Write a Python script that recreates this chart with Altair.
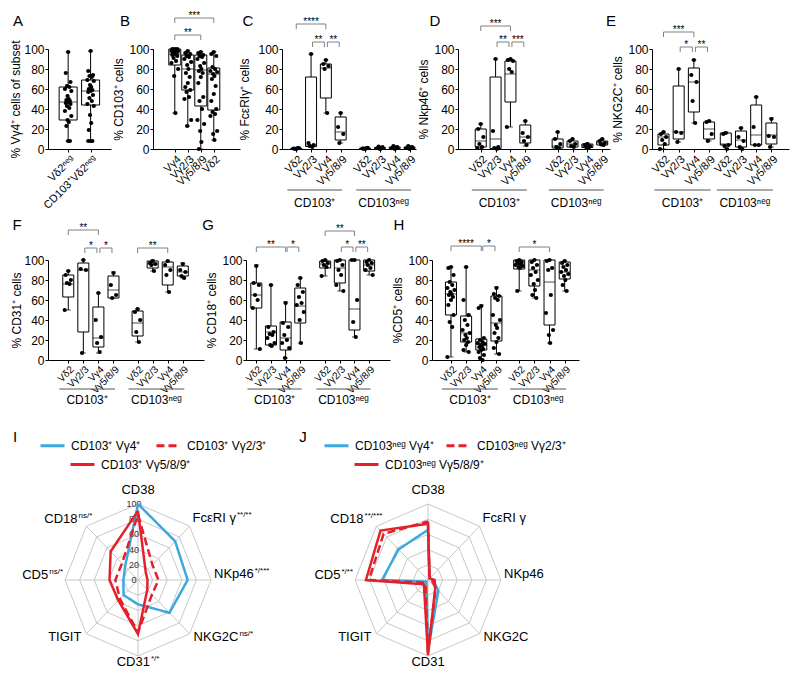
import json
import altair as alt
import pandas as pd

FONT = "Liberation Sans"
POS = "CD103⁺"
NEG = "CD103ⁿᵉᵍ"
SUBSETS = ["Vδ2", "Vγ2/3", "Vγ4", "Vγ5/8/9"]
BR_COLOR = "#808080"

# ---------------- Panel A
A_labels = ["Vδ2ⁿᵉᵍ", "CD103⁺Vδ2ⁿᵉᵍ"]
A_min = [8, 8]
A_q1 = [29, 44]
A_med = [47, 58]
A_q3 = [62, 69]
A_max = [97, 98]
A_points = [
    [97, 76, 67, 63, 62, 60, 58, 53, 50, 49, 48, 47, 46, 45, 43, 41, 38, 33, 29, 27, 23, 8, 8],
    [98, 78, 74, 73, 72, 69, 68, 64, 62, 60, 59, 58, 57, 54, 51, 48, 45, 43, 34, 26, 19, 8, 8, 8],
]

# ---------------- Panel B
B_labels = ["Vγ4", "Vγ2/3", "Vγ5/8/9", "Vδ2"]
B_min = [36, 23, 0, 9]
B_q1 = [84, 59, 43, 39]
B_med = [95, 80, 79, 75]
B_q3 = [100, 94, 94, 81]
B_max = [100, 98, 97, 97]
B_points = [
    [100, 100, 100, 99, 99, 98, 98, 97, 97, 96, 96, 95, 94, 93, 91, 88, 86, 80, 73, 36],
    [98, 96, 95, 93, 92, 90, 87, 84, 80, 76, 72, 66, 62, 59, 57, 52, 50, 29, 23],
    [97, 96, 94, 93, 92, 90, 86, 83, 80, 78, 76, 72, 66, 52, 48, 40, 29, 25, 18, 7, 0],
    [97, 95, 93, 82, 80, 78, 77, 75, 73, 70, 63, 55, 48, 40, 37, 35, 33, 18, 15, 9],
]
B_brackets = [(0, 2, 114, "**"), (0, 3, 131, "***")]

# ---------------- Panel C  (FcεRIγ)
C_min = [0, 2, 36, 6, 0, 0, 0, 0]
C_q1 = [0, 2.5, 51, 9, 0, 0.3, 0.5, 0.5]
C_med = [0.3, 4, 81, 17, 0.3, 0.8, 1, 1.2]
C_q3 = [0.8, 72, 85, 32, 0.8, 1.5, 2, 2]
C_max = [1, 95, 89, 36, 1.2, 2.5, 3, 3]
C_points = [[0, 0.5, 1, 0.2, 0.8], [95, 6, 4, 3, 2], [89, 85, 83, 80, 36], [36, 22, 15, 6],
            [0, 0.5, 1.2, 0.3, 0.8], [0, 1, 2, 2.5, 0.5], [0, 1, 2, 3, 1.5], [0, 1, 2, 3, 1.5]]
C_brackets = [(0, 2, 125, "****"), (1, 2, 107, "**"), (2, 3, 107, "**")]

# ---------------- Panel D  (NKp46)
D_min = [0, 0, 22, 3, 0, 2, 1, 3]
D_q1 = [2, 0.5, 47, 6, 1, 2, 1.5, 4]
D_med = [8, 10, 75, 12, 3, 5, 3, 6]
D_q3 = [20, 72, 88, 24, 10, 8, 5, 8]
D_max = [25, 90, 90, 28, 17, 10, 6, 10]
D_points = [[25, 20, 12, 5, 2, 1], [90, 18, 2, 1, 0], [90, 89, 88, 80, 77, 22], [28, 16, 12, 8, 4],
            [17, 10, 5, 2, 1], [10, 8, 5, 3, 2], [5, 4, 3, 2, 1], [10, 8, 6, 5, 4]]
D_brackets = [(0, 2, 123, "***"), (1, 2, 107, "**"), (2, 3, 107, "***")]

# ---------------- Panel E  (NKG2C)
E_min = [0, 7, 26, 8, 0, 0, 4, 2]
E_q1 = [4, 10, 37, 10, 4, 2, 4, 5]
E_med = [12, 17, 67, 20, 5, 9, 14, 14]
E_q3 = [15, 63, 81, 27, 16, 18, 44, 26]
E_max = [17, 80, 89, 28, 17, 21, 52, 31]
E_points = [[17, 15, 12, 9, 5, 0], [80, 17, 16, 7], [89, 74, 67, 48, 26], [28, 27, 15, 8],
            [16, 15, 4, 3, 0], [21, 12, 8, 2, 0], [52, 22, 4, 4], [30, 13, 12, 2]]
E_brackets = [(0, 2, 117, "***"), (1, 2, 102, "*"), (2, 3, 102, "**")]

# ---------------- Panel F  (CD31)
F_min = [50, 7, 7, 62, 18, 89, 68, 82]
F_q1 = [63, 28, 13, 62, 24, 92, 75, 84]
F_med = [76, 90, 22, 70, 37, 96, 93, 88]
F_q3 = [85, 97, 53, 84, 49, 99, 98, 94]
F_max = [89, 100, 67, 88, 51, 100, 99, 97]
F_points = [[89, 85, 80, 77, 76, 50], [100, 91, 90, 7], [67, 40, 23, 17, 8], [87, 75, 65, 62],
            [51, 48, 40, 28, 18], [99, 97, 96, 95, 89], [99, 95, 90, 85, 68], [96, 90, 88, 84, 82]]
F_brackets = [(0, 2, 130, "**"), (1, 2, 112, "*"), (2, 3, 112, "*"), (4, 6, 112, "**")]

# ---------------- Panel G  (CD18)
G_min = [11, 14, 2, 17, 84, 69, 23, 85]
G_q1 = [52, 15, 10, 37, 92, 77, 30, 89]
G_med = [65, 28, 22, 54, 96, 92, 51, 95]
G_q3 = [77, 34, 38, 72, 99, 100, 100, 100]
G_max = [95, 75, 58, 82, 100, 100, 100, 100]
G_points = [[94, 77, 75, 65, 60, 52, 11], [75, 33, 28, 26, 25, 22, 17, 15, 14],
            [57, 37, 33, 25, 20, 17, 12, 2], [82, 75, 68, 63, 57, 55, 48, 40, 17],
            [100, 99, 97, 95, 93, 84], [100, 99, 95, 90, 85, 75, 69], [100, 100, 60, 38, 23],
            [100, 98, 97, 95, 92, 90, 85]]
G_brackets = [(0, 2, 113, "**"), (2, 3, 113, "*"), (4, 6, 129, "**"), (5, 6, 113, "*"), (6, 7, 113, "**")]

# ---------------- Panel H  (CD5)
H_min = [3, 8, 0, 6, 69, 62, 17, 69]
H_q1 = [45, 18, 10, 19, 91, 74, 35, 81]
H_med = [66, 27, 16, 37, 96, 90, 78, 88]
H_q3 = [78, 44, 21, 64, 100, 100, 100, 98]
H_max = [93, 93, 55, 73, 100, 100, 100, 99]
H_points = [[93, 92, 85, 78, 75, 72, 70, 68, 66, 65, 63, 60, 55, 45, 38, 33, 3],
            [93, 60, 45, 40, 35, 30, 27, 25, 22, 20, 18, 15, 10, 8],
            [54, 52, 22, 20, 18, 17, 16, 15, 14, 13, 11, 10, 8, 5, 2, 0],
            [72, 66, 64, 62, 60, 45, 40, 35, 32, 27, 22, 18, 12, 6],
            [100, 99, 98, 97, 96, 95, 94, 93, 92, 69],
            [100, 98, 95, 92, 88, 85, 80, 76, 70, 65, 62],
            [100, 99, 92, 90, 65, 47, 30, 25, 17],
            [99, 97, 95, 93, 90, 88, 86, 84, 80, 75, 69]]
H_brackets = [(0, 2, 114, "****"), (2, 3, 114, "*"), (4, 6, 113, "*")]

# ---------------- Radar panels I / J
AXES = ["CD38", "FcεRI γ", "NKp46", "NKG2C", "CD31", "TIGIT", "CD5", "CD18"]
I_sups = ["", "**/**", "*/***", "ns/*", "*/*", "", "ns/*", "ns/*"]
J_sups = ["", "", "", "", "", "", "*/**", "**/***"]
I_series = ["CD103⁺ Vγ4⁺", "CD103⁺ Vγ2/3⁺", "CD103⁺ Vγ5/8/9⁺"]
I_vals = [
    [100, 72, 68, 61, 32, 28, 20, 25],
    [86, 28, 28, 27, 69, 35, 31, 31],
    [91, 15, 13, 18, 71, 38, 39, 53],
]
J_series = ["CD103ⁿᵉᵍ Vγ4⁺", "CD103ⁿᵉᵍ Vγ2/3⁺", "CD103ⁿᵉᵍ Vγ5/8/9⁺"]
J_vals = [
    [66, 3, 7, 20, 93, 3, 63, 57],
    [77, 3, 5, 15, 95, 5, 81, 86],
    [74, 3, 9, 14, 99, 8, 85, 92],
]
RINGS = [20, 40, 60, 80, 100]
BLUE = "#3AA9E0"
RED = "#E5202A"
GRID_C = "#c8c8c8"

JIT_PX = [0, -2.8, 2.8, -1.4, 1.4, -3.8, 3.8, -0.7, 0.7, -2.1, 2.1]
COL_GAP = 42


def make_pos(n, gap):
    if gap is None:
        return list(range(n))
    return [0, 1, 2, 3] + [round(3 + gap + k, 3) for k in range(4)]


def box_panel(letter, ytitle, labels, mins, q1s, meds, q3s, maxs, points, brackets, groups,
              step, gap, lp, rp, box_w, lab_size, letter_xy, ul_off, gt_off, title_pad=3):
    H = 100
    pos = make_pos(len(labels), gap)
    dom = [round(-lp / step, 4), round(pos[-1] + rp / step, 4)]
    width = round((dom[1] - dom[0]) * step)
    xs = alt.Scale(domain=dom, nice=False, zero=False)
    ys = alt.Scale(domain=[0, 100], nice=False, zero=False)
    lab_expr = "%s[indexof(%s, datum.value)]" % (json.dumps(labels, ensure_ascii=False), json.dumps(pos))
    xaxis = alt.Axis(values=pos, labelExpr=lab_expr, labelAngle=-45, labelFontSize=lab_size,
                     labelOverlap=False, labelBound=False, labelFlush=False, labelPadding=1,
                     tickSize=3, title=None, grid=False, domainColor="black", tickColor="black")
    yaxis = alt.Axis(values=[0, 20, 40, 60, 80, 100], tickSize=3, labelFontSize=12, labelPadding=1,
                     title=ytitle, titleFontSize=12, titleFontWeight="normal", titlePadding=title_pad,
                     grid=False, domainColor="black", tickColor="black")

    def X(f):
        return alt.X(f, type="quantitative", scale=xs, axis=xaxis)

    def Y(f):
        return alt.Y(f, type="quantitative", scale=ys, axis=yaxis)

    box = pd.DataFrame(dict(pos=pos, lo=mins, q1=q1s, med=meds, q3=q3s, hi=maxs))
    caps = pd.DataFrame(dict(pos=pos * 2, v=list(mins) + list(maxs)))
    rows = []
    for i, vals in enumerate(points):
        for k, v in enumerate(vals):
            rows.append(dict(xp=pos[i] + JIT_PX[k % len(JIT_PX)] / step, v=v))
    pts = pd.DataFrame(rows)

    layers = [
        alt.Chart(box).mark_rule(color="black", strokeWidth=1).encode(x=X("pos"), y=Y("lo"), y2="hi:Q"),
        alt.Chart(caps).mark_tick(orient="horizontal", size=5, thickness=1, color="black").encode(x=X("pos"), y=Y("v")),
        alt.Chart(box).mark_bar(orient="vertical", size=box_w, fill="white", stroke="black", strokeWidth=1)
        .encode(x=X("pos"), y=Y("q1"), y2="q3:Q"),
        alt.Chart(box).mark_tick(orient="horizontal", size=box_w, thickness=1, color="black").encode(x=X("pos"), y=Y("med")),
        alt.Chart(pts).mark_circle(size=18, color="black", opacity=1).encode(x=X("xp"), y=Y("v")),
    ]
    if brackets:
        br = []
        for i, j, lvl, s in brackets:
            inset = 0.1 if j - i == 1 else 0
            x1, x2 = pos[i] + inset, pos[j] - inset
            br.append(dict(x1=x1, x2=x2, xm=(x1 + x2) / 2, y=lvl, yt=lvl - 5, s=s))
        brd = pd.DataFrame(br)
        layers += [
            alt.Chart(brd).mark_rule(color=BR_COLOR, strokeWidth=1).encode(x=X("x1"), x2="x2:Q", y=Y("y")),
            alt.Chart(brd).mark_rule(color=BR_COLOR, strokeWidth=1).encode(x=X("x1"), y=Y("y"), y2="yt:Q"),
            alt.Chart(brd).mark_rule(color=BR_COLOR, strokeWidth=1).encode(x=X("x2"), y=Y("y"), y2="yt:Q"),
            alt.Chart(brd).mark_text(fontSize=10, baseline="alphabetic", align="center", dy=1, color="black")
            .encode(x=X("xm"), y=Y("y"), text="s:N"),
        ]
    if groups:
        gr = []
        for a, b, name in groups:
            g1, g2 = pos[a] - 0.6, pos[b] + 0.1
            gr.append(dict(g1=g1, g2=g2, gm=(g1 + g2) / 2, name=name))
        grd = pd.DataFrame(gr)
        layers += [
            alt.Chart(grd).mark_rule(color="#555555", strokeWidth=1).encode(x=X("g1"), x2="g2:Q", y=alt.value(H + ul_off)),
            alt.Chart(grd).mark_text(fontSize=12, baseline="middle", align="center", color="black")
            .encode(x=X("gm"), y=alt.value(H + gt_off), text="name:N"),
        ]
    layers.append(
        alt.Chart(pd.DataFrame({"t": [letter]})).mark_text(fontSize=15, align="center", baseline="alphabetic", color="black")
        .encode(x=alt.value(letter_xy[0]), y=alt.value(letter_xy[1]), text="t:N")
    )
    return alt.layer(*layers).properties(width=width, height=H)


GRP = [(0, 3, POS), (4, 7, NEG)]
S8 = SUBSETS + SUBSETS

A = box_panel("A", "% Vγ4⁺ cells of subset", A_labels, A_min, A_q1, A_med, A_q3, A_max, A_points, None, None,
              26.7, None, 18, 18.3, 18, 11, (-30, -23), 41, 54, title_pad=1)
B = box_panel("B", "% CD103⁺ cells", B_labels, B_min, B_q1, B_med, B_q3, B_max, B_points, B_brackets, None,
              14.7, None, 19, 24, 12, 11, (-28, -23), 41, 54)
C = box_panel("C", "% FcεRIγ⁺ cells", S8, C_min, C_q1, C_med, C_q3, C_max, C_points, C_brackets, GRP,
              16, 1.65, 10, 1.6, 11, 11, (-34, -23), 41, 54, title_pad=6)
D = box_panel("D", "% Nkp46⁺ cells", S8, D_min, D_q1, D_med, D_q3, D_max, D_points, D_brackets, GRP,
              15.9, 2.18, 19, 3, 11, 11, (-23, -23), 41, 54)
E = box_panel("E", "% NKG2C⁺ cells", S8, E_min, E_q1, E_med, E_q3, E_max, E_points, E_brackets, GRP,
              16.4, 1.1, 7, 13.6, 11, 11, (-41, -23), 41, 54)
F = box_panel("F", "% CD31⁺ cells", S8, F_min, F_q1, F_med, F_q3, F_max, F_points, F_brackets, GRP,
              16.1, 1.6, 16.3, 17.3, 11, 10, (-31, -30), 29, 40, title_pad=0)
G = box_panel("G", "% CD18⁺ cells", S8, G_min, G_q1, G_med, G_q3, G_max, G_points, G_brackets, GRP,
              15.7, 1.7, 5.7, 17, 11, 10, (-38, -30), 29, 40)
Hp = box_panel("H", "%CD5⁺ cells", S8, H_min, H_q1, H_med, H_q3, H_max, H_points, H_brackets, GRP,
               16.3, 1.5, 15, 10, 11, 10, (-33, -30), 29, 40)

# ---------------- radar
CW = {'C': 722, 'D': 722, 'F': 611, 'c': 500, 'ε': 441, 'R': 722, 'I': 278, ' ': 278, 'γ': 500,
      'N': 722, 'K': 667, 'p': 556, 'G': 778, 'T': 611, '/': 278, '*': 389, 'n': 556, 's': 500}


def tw(s, size):
    return sum(CW.get(ch, 556) for ch in s) * size / 1000.0


PLACE = [("center", 0, -10), ("left", 3, -4), ("left", 3, -2), ("left", 4, 7),
         ("center", 0, 10), ("right", -5, 7), ("right", -2, -1), ("right", 6, -3)]

R_PX = 73.0          # radius in px (horizontal)
R_PY = 76.0          # radius in px (vertical)
TOP_PAD = 33         # empty px above the octagon inside the view


def radar(letter, series, vals, sups, show_ticks, left_pad, leg1_xy, leg2_xy, col_pad, letter_x):
    w = round(left_pad + 2 * R_PX)
    h = round(2 * R_PY + TOP_PAD)
    ux = 100.0 / R_PX
    uy = 100.0 / R_PY
    xs = alt.Scale(domain=[round(-100 - left_pad * ux, 3), 100], nice=False, zero=False)
    ys = alt.Scale(domain=[-100, round(100 + TOP_PAD * uy, 3)], nice=False, zero=False)

    def X(f):
        return alt.X(f, type="quantitative", scale=xs, axis=None)

    def Y(f):
        return alt.Y(f, type="quantitative", scale=ys, axis=None)

    ang = "datum.k*PI/4"
    grid_df = pd.DataFrame([{"lvl": l, "k": k} for l in RINGS for k in range(9)])
    grid = (alt.Chart(grid_df)
            .transform_calculate(gx=f"datum.lvl*sin({ang})", gy=f"datum.lvl*cos({ang})")
            .mark_line(color=GRID_C, strokeWidth=1)
            .encode(x=X("gx"), y=Y("gy"), detail="lvl:N", order="k:Q"))
    spokes = (alt.Chart(pd.DataFrame({"k": list(range(8))}))
              .transform_calculate(gx=f"100*sin({ang})", gy=f"100*cos({ang})", z="0")
              .mark_rule(color=GRID_C, strokeWidth=1)
              .encode(x=X("z"), y=Y("z"), x2="gx:Q", y2="gy:Q"))
    layers = [grid, spokes]
    if show_ticks:
        tdf = pd.DataFrame({"lvl": [0] + RINGS})
        layers.append(alt.Chart(tdf).transform_calculate(z="0")
                      .mark_text(fontSize=9, dx=-4, baseline="middle", align="center", color="#333333")
                      .encode(x=X("z"), y=Y("lvl"), text=alt.Text("lvl:Q")))

    def series_df(idx):
        rows = []
        for i in idx:
            for k in range(9):
                rows.append({"series": series[i], "k": k, "v": vals[i][k % 8]})
        return pd.DataFrame(rows)

    leg_common = dict(title=None, orient="none", direction="horizontal", symbolType="stroke",
                      symbolStrokeWidth=3, symbolSize=576, labelFontSize=12, labelFont=FONT,
                      labelOffset=5, labelColor="black")
    leg1 = alt.Legend(legendX=leg1_xy[0], legendY=leg1_xy[1], columnPadding=col_pad, **leg_common)
    leg2 = alt.Legend(legendX=leg2_xy[0], legendY=leg2_xy[1], **leg_common)
    # first row of the legend: Vγ4 (blue, solid) and Vγ2/3 (red, dashed)
    layers.append(alt.Chart(series_df([0, 1]))
                  .transform_calculate(sx=f"datum.v*sin({ang})", sy=f"datum.v*cos({ang})")
                  .mark_line(strokeWidth=2.5)
                  .encode(x=X("sx"), y=Y("sy"),
                          color=alt.Color("series:N", scale=alt.Scale(domain=series[:2], range=[BLUE, RED]), legend=leg1),
                          strokeDash=alt.StrokeDash("series:N", scale=alt.Scale(domain=series[:2], range=[[1, 0], [8, 4]]), legend=leg1),
                          order="k:Q"))
    # second row: Vγ5/8/9 (red, solid)
    layers.append(alt.Chart(series_df([2]))
                  .transform_calculate(sx=f"datum.v*sin({ang})", sy=f"datum.v*cos({ang})")
                  .mark_line(strokeWidth=2.5)
                  .encode(x=X("sx"), y=Y("sy"),
                          stroke=alt.Stroke("series:N", scale=alt.Scale(domain=series[2:], range=[RED]), legend=leg2),
                          order="k:Q"))
    for k in range(8):
        main, sup = AXES[k], sups[k]
        align, dx, dy = PLACE[k]
        wm, ws = tw(main, 13), (tw(sup, 8) + 1 if sup else 0)
        if align == "left":
            m_al, m_dx, s_al, s_dx = "left", dx, "left", dx + wm + 1
        elif align == "right":
            m_al, m_dx, s_al, s_dx = "right", dx - ws, "right", dx
        else:
            tot = wm + ws
            m_al, m_dx, s_al, s_dx = "left", dx - tot / 2, "left", dx - tot / 2 + wm + 1
        base = (alt.Chart(pd.DataFrame({"k": [k], "t": [main], "s": [sup]}))
                .transform_calculate(lx=f"100*sin({ang})", ly=f"100*cos({ang})"))
        layers.append(base.mark_text(align=m_al, dx=m_dx, dy=dy, fontSize=13, baseline="alphabetic", color="black")
                      .encode(x=X("lx"), y=Y("ly"), text="t:N"))
        if sup:
            layers.append(base.mark_text(align=s_al, dx=s_dx, dy=dy - 5, fontSize=8, baseline="alphabetic", color="black")
                          .encode(x=X("lx"), y=Y("ly"), text="s:N"))
    layers.append(alt.Chart(pd.DataFrame({"t": [letter]}))
                  .mark_text(fontSize=15, align="center", baseline="alphabetic", color="black")
                  .encode(x=alt.value(letter_x), y=alt.value(-29), text="t:N"))
    return (alt.layer(*layers)
            .resolve_scale(color="independent", strokeDash="independent", stroke="independent")
            .properties(width=w, height=h))


I = radar("I", I_series, I_vals, I_sups, True, 17, (-9, -39), (21, -20), 9, -33)
J = radar("J", J_series, J_vals, J_sups, False, 0, (-32, -39), (-2, -20), 6, -52)

CH = dict(x="independent", y="independent")
CH_R = dict(x="independent", y="independent", color="independent", strokeDash="independent", stroke="independent")
LG_R = dict(color="independent", strokeDash="independent", stroke="independent")

row1 = alt.concat(A, B, C, D, E, columns=5, spacing=COL_GAP, bounds="flush", align="none").resolve_scale(**CH)
row2 = alt.concat(F, G, Hp, columns=3, spacing=COL_GAP, bounds="flush", align="none").resolve_scale(**CH)
row3 = (alt.concat(I, J, columns=2, spacing=354 - 47 - 163, bounds="flush", align="none")
        .resolve_scale(**CH_R).resolve_legend(**LG_R))

PAD_L, PAD_T = 40, 41
TOTAL_W, TOTAL_H = 784, 660

chart = (alt.concat(row1, row2, row3, columns=1, align="none", bounds="flush", spacing=211,
                    autosize=alt.AutoSizeParams(type="none"),
                    padding={"left": PAD_L, "top": PAD_T,
                             "right": TOTAL_W - PAD_L, "bottom": TOTAL_H - PAD_T})
         .resolve_scale(**CH_R)
         .resolve_legend(**LG_R)
         .configure(font=FONT)
         .configure_view(stroke=None)
         .configure_axis(labelFont=FONT, titleFont=FONT, labelColor="black", titleColor="black")
         .configure_text(font=FONT))

chart.save("out.html", embed_options={"renderer": "svg", "actions": False})
